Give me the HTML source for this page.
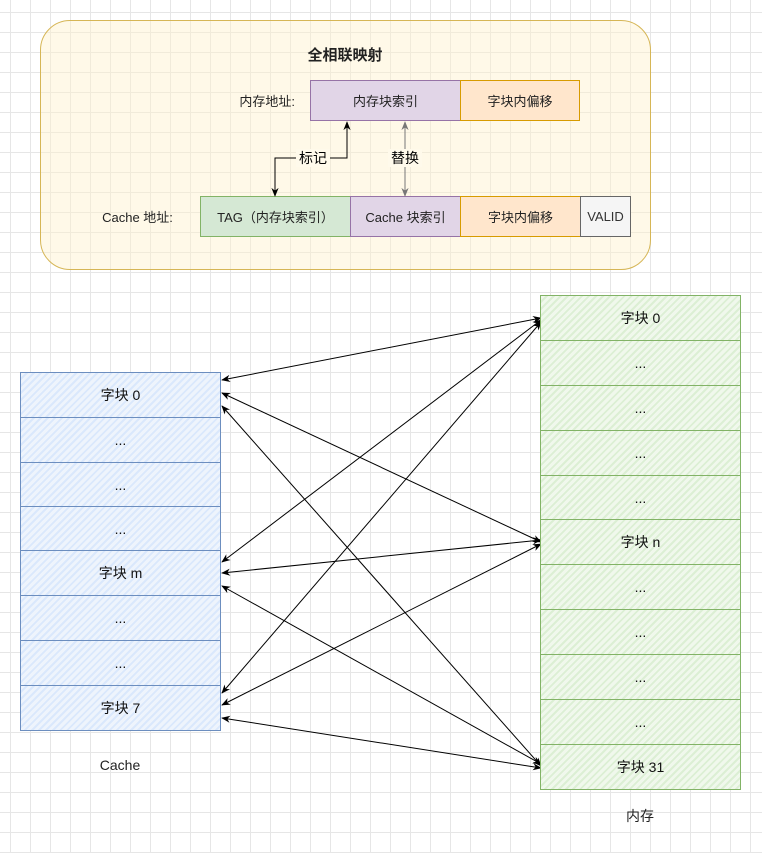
<!DOCTYPE html>
<html><head><meta charset="utf-8"><style>
body{margin:0;width:762px;height:853px;overflow:hidden;background:#fff;
background-image:linear-gradient(#e6e6e6 1px,transparent 1px),linear-gradient(90deg,#e6e6e6 1px,transparent 1px);
background-size:20px 20px;background-position:-10px -8px;
font-family:"Liberation Sans","Noto Sans CJK SC",sans-serif;}
.a{position:absolute;box-sizing:border-box;display:flex;align-items:center;justify-content:center;font-size:13px;color:#222;}
.c{position:absolute;box-sizing:border-box;left:20px;width:201px;height:46px;border:1.3px solid #6c8ebf;background:repeating-linear-gradient(135deg,#eef4fc 0 3px,#dae8fc 3px 5px);display:flex;align-items:center;justify-content:center;font-size:14px;color:#111}
.m{position:absolute;box-sizing:border-box;left:540px;width:201px;height:46px;border:1.3px solid #82b366;background:repeating-linear-gradient(135deg,#f0f8ec 0 3px,#dcefd4 3px 5px);display:flex;align-items:center;justify-content:center;font-size:14px;color:#111}
</style></head><body>
<div class="a" style="left:40px;top:20px;width:611px;height:250px;border:1.5px solid #d6b656;border-radius:30px;background:rgba(255,242,204,0.45)"></div>
<div class="a" style="left:290px;top:42px;width:110px;height:24px;font-weight:bold;font-size:15px">全相联映射</div>
<div class="a" style="left:215px;top:90px;width:80px;height:20px;justify-content:flex-end">内存地址:</div>
<div class="a" style="left:310px;top:80px;width:151px;height:41px;border:1px solid #9673a6;background:#e1d5e7">内存块索引</div>
<div class="a" style="left:460px;top:80px;width:120px;height:41px;border:1px solid #d79b00;background:#ffe6cc">字块内偏移</div>
<div class="a" style="left:90px;top:206px;width:95px;height:20px">Cache 地址:</div>
<div class="a" style="left:200px;top:196px;width:151px;height:41px;border:1px solid #82b366;background:#d5e8d4">TAG（内存块索引）</div>
<div class="a" style="left:350px;top:196px;width:111px;height:41px;border:1px solid #9673a6;background:#e1d5e7">Cache 块索引</div>
<div class="a" style="left:460px;top:196px;width:121px;height:41px;border:1px solid #d79b00;background:#ffe6cc">字块内偏移</div>
<div class="a" style="left:580px;top:196px;width:51px;height:41px;border:1px solid #666;background:#f5f5f5;color:#333">VALID</div>
<svg style="position:absolute;left:0;top:0" width="762" height="853">
<defs>
<marker id="k" viewBox="0 0 10 10" refX="9" refY="5" markerWidth="9" markerHeight="9" orient="auto-start-reverse"><path d="M0,1 L10,5 L0,9 L3,5z" fill="#000"/></marker>
<marker id="g" viewBox="0 0 10 10" refX="9" refY="5" markerWidth="9" markerHeight="9" orient="auto-start-reverse"><path d="M0,1 L10,5 L0,9 L3,5z" fill="#777"/></marker>
</defs>
<path d="M275,196 V158 H347 V122" fill="none" stroke="#000" marker-start="url(#k)" marker-end="url(#k)"/>
<path d="M405,196 V122" stroke="#777" marker-start="url(#g)" marker-end="url(#g)"/>
<rect x="296" y="149" width="34" height="18" fill="#fffaeb"/>
<text x="313" y="163" font-size="14" text-anchor="middle" font-family="Liberation Sans,Noto Sans CJK SC,sans-serif">标记</text>
<rect x="388" y="149" width="34" height="18" fill="#fffaeb"/>
<text x="405" y="163" font-size="14" text-anchor="middle" font-family="Liberation Sans,Noto Sans CJK SC,sans-serif">替换</text>
<g stroke="#000" stroke-width="1" fill="none" marker-start="url(#k)" marker-end="url(#k)">
<path d="M222,380 L541,318"/><path d="M222,393 L541,542"/><path d="M222,406 L541,766"/>
<path d="M222,562 L541,320"/><path d="M222,573 L541,540"/><path d="M222,586 L541,764"/>
<path d="M222,693 L541,322"/><path d="M222,705 L541,544"/><path d="M222,718 L541,768"/>
</g>
</svg>
<div class="c" style="top:372px">字块 0</div>
<div class="c" style="top:417px">...</div>
<div class="c" style="top:462px">...</div>
<div class="c" style="top:506px">...</div>
<div class="c" style="top:550px">字块 m</div>
<div class="c" style="top:595px">...</div>
<div class="c" style="top:640px">...</div>
<div class="c" style="top:685px">字块 7</div>
<div class="a" style="left:80px;top:755px;width:80px;height:20px;font-size:14px">Cache</div>
<div class="m" style="top:295px">字块 0</div>
<div class="m" style="top:340px">...</div>
<div class="m" style="top:385px">...</div>
<div class="m" style="top:430px">...</div>
<div class="m" style="top:475px">...</div>
<div class="m" style="top:519px">字块 n</div>
<div class="m" style="top:564px">...</div>
<div class="m" style="top:609px">...</div>
<div class="m" style="top:654px">...</div>
<div class="m" style="top:699px">...</div>
<div class="m" style="top:744px">字块 31</div>
<div class="a" style="left:600px;top:806px;width:80px;height:20px;font-size:14px">内存</div>
</body></html>
